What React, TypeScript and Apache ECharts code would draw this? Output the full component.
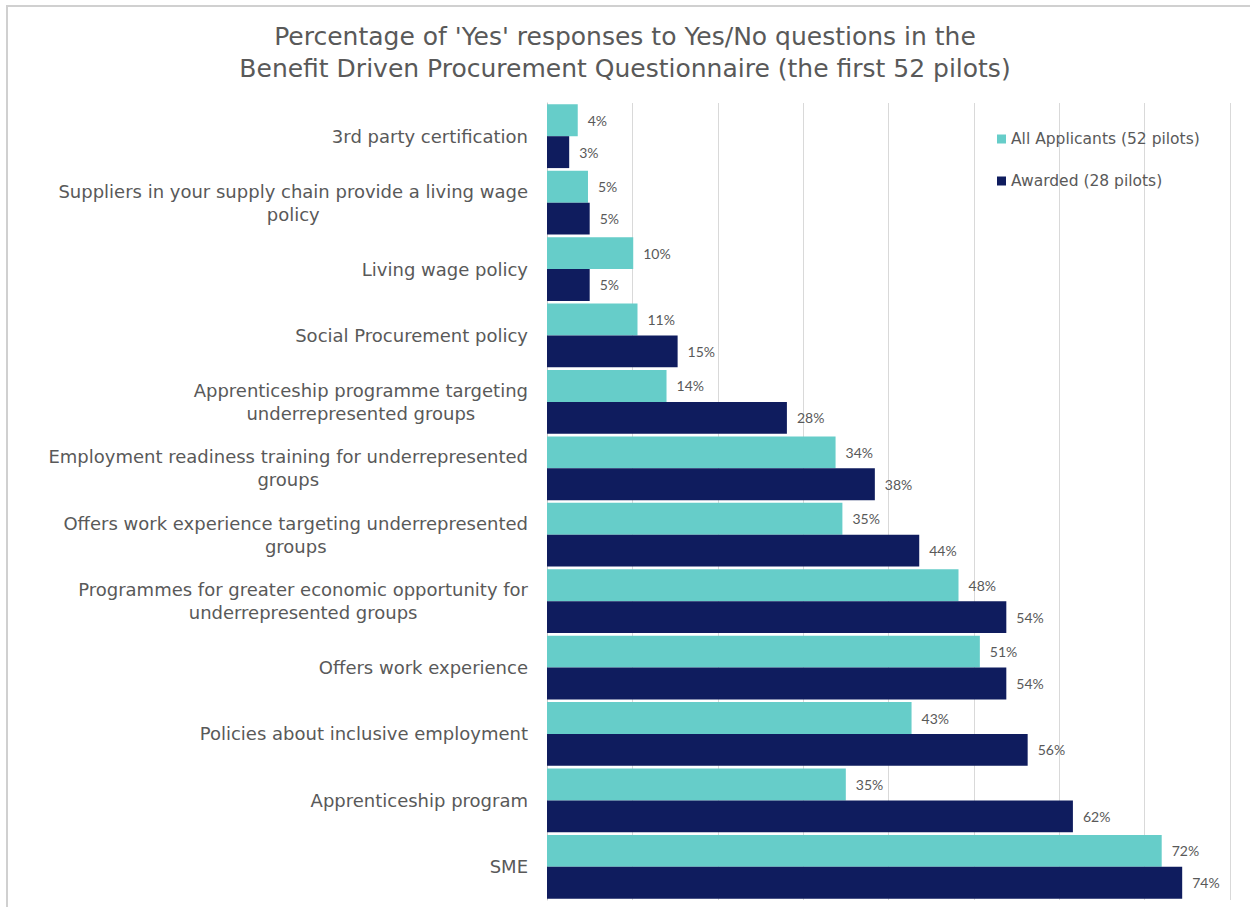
import React, { useEffect, useRef } from "react";
import * as echarts from "echarts";

const categories = [
  "3rd party certification",
  "Suppliers in your supply chain provide a living wage\npolicy",
  "Living wage policy",
  "Social Procurement policy",
  "Apprenticeship programme targeting\nunderrepresented groups",
  "Employment readiness training for underrepresented\ngroups",
  "Offers work experience targeting underrepresented\ngroups",
  "Programmes for greater economic opportunity for\nunderrepresented groups",
  "Offers work experience",
  "Policies about inclusive employment",
  "Apprenticeship program",
  "SME",
];

const allApplicants = [3.6, 4.8, 10.1, 10.6, 14.0, 33.8, 34.6, 48.2, 50.7, 42.7, 35.0, 72.0];
const awarded = [2.6, 5.0, 5.0, 15.3, 28.1, 38.4, 43.6, 53.8, 53.8, 56.3, 61.6, 74.4];

const seriesNames = ["All Applicants (52 pilots)", "Awarded (28 pilots)"];
const titleText =
  "Percentage of 'Yes' responses to Yes/No questions in the\nBenefit Driven Procurement Questionnaire (the first 52 pilots)";

const TEAL = "#66CDC9";
const NAVY = "#0F1C5E";
const GRAY = "#595959";
const FONT = "DejaVu Sans";

export default function App() {
  const ref = useRef<HTMLDivElement>(null);
  useEffect(() => {
    if (!ref.current) return;
    const chart = echarts.init(ref.current, undefined, { renderer: "svg" });
    const label = {
      show: true,
      position: "right" as const,
      distance: 10,
      color: GRAY,
      fontFamily: "Lato",
      fontSize: 14,
      formatter: (p: any) => Math.round(p.value) + "%",
    };
    chart.setOption({
      animation: false,
      backgroundColor: "#ffffff",
      title: {
        text: titleText,
        left: "center",
        top: 20,
        padding: [0, 0, 0, 12],
        textStyle: {
          fontFamily: FONT,
          fontWeight: "normal",
          fontSize: 25,
          lineHeight: 32,
          color: GRAY,
        },
      },
      legend: {
        orient: "vertical",
        left: 992,
        top: 126,
        itemWidth: 9,
        itemHeight: 9,
        itemGap: 26,
        icon: "rect",
        textStyle: { fontFamily: FONT, fontSize: 15.5, color: GRAY },
        data: seriesNames,
      },
      graphic: [
        {
          type: "rect",
          shape: { x: 7, y: 6, width: 1270, height: 920 },
          style: { fill: "none", stroke: "#d0d0d0", lineWidth: 2 },
          silent: true,
        },
      ],
      grid: { left: 547, right: 20, top: 103, bottom: 7, containLabel: false },
      xAxis: {
        type: "value",
        min: 0,
        max: 80,
        interval: 10,
        axisLabel: { show: false },
        axisLine: { show: false },
        axisTick: { show: false },
        splitLine: { show: true, lineStyle: { color: "#d9d9d9", width: 1 } },
      },
      yAxis: {
        type: "category",
        inverse: true,
        data: categories,
        axisLine: { show: true, lineStyle: { color: "#c8c8c8", width: 1 } },
        axisTick: { show: false },
        axisLabel: {
          margin: 19,
          formatter: (v: string) =>
            v
              .split("\n")
              .map((l) => "{c|" + l + "}")
              .join("\n"),
          rich: {
            c: {
              align: "center",
              fontFamily: FONT,
              fontSize: 18,
              lineHeight: 23,
              color: GRAY,
            },
          },
        },
      },
      series: [
        {
          name: seriesNames[0],
          type: "bar",
          data: allApplicants,
          barGap: "0%",
          barCategoryGap: "4%",
          itemStyle: { color: TEAL },
          label,
        },
        {
          name: seriesNames[1],
          type: "bar",
          data: awarded,
          barGap: "0%",
          barCategoryGap: "4%",
          itemStyle: { color: NAVY },
          label,
        },
      ],
    });
    return () => chart.dispose();
  }, []);
  return (
    <div
      ref={ref}
      style={{ position: "absolute", left: 0, top: 0, width: 1250, height: 907 }}
    />
  );
}
